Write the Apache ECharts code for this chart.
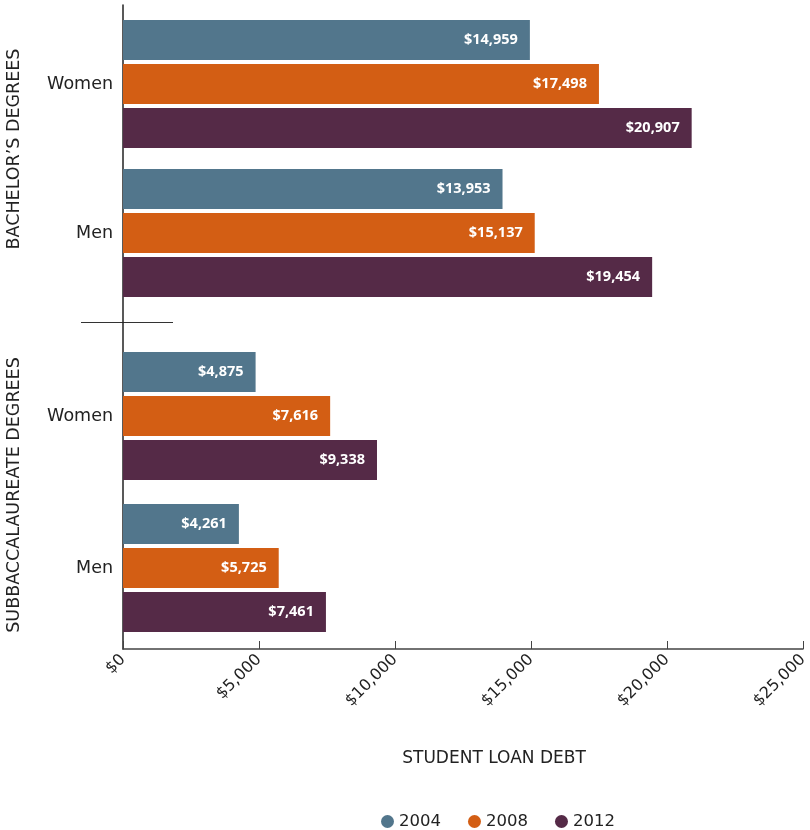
<!DOCTYPE html>
<html>
<head>
<meta charset="utf-8">
<script src="https://cdn.jsdelivr.net/npm/echarts@6/dist/echarts.min.js"></script>
<style>html,body{margin:0;padding:0;background:#fff}#c{width:810px;height:830px}</style>
</head>
<body>
<div id="c"></div>
<script>
var categories = ['Women', 'Men'];
var years = ['2004', '2008', '2012'];
var bachelor2004 = [14959, 13953];
var bachelor2008 = [17498, 15137];
var bachelor2012 = [20907, 19454];
var sub2004 = [4875, 4261];
var sub2008 = [7616, 5725];
var sub2012 = [9338, 7461];
var xTicks = [0, 5000, 10000, 15000, 20000, 25000];
var colors = ['#52768c', '#d35e14', '#552a47'];

var FONT = 'DejaVu Sans';
var LFONT = 'Noto Sans';
var chart = echarts.init(document.getElementById('c'));
function fmt(v) { return '$' + v.toLocaleString('en-US'); }
function mkSeries(name, data, gi, color) {
  return {
    type: 'bar', name: name, data: data, xAxisIndex: gi, yAxisIndex: gi,
    barWidth: 40, barGap: '10%', itemStyle: { color: color },
    label: { show: true, position: 'insideRight', distance: 12, color: '#fff', fontWeight: 'bold',
      fontSize: 14.5, fontFamily: LFONT, formatter: function (p) { return fmt(p.value); } }
  };
}
var hiddenX = { type: 'value', min: xTicks[0], max: xTicks[xTicks.length - 1], interval: 5000, show: false };
var catY = function (gi, name, pad) {
  return {
    type: 'category', gridIndex: gi, data: categories, inverse: true,
    axisLine: { show: false }, axisTick: { show: false },
    axisLabel: { color: '#222', fontSize: 17.5, fontFamily: FONT, margin: 10 },
    name: name, nameLocation: 'middle', nameRotate: 90, nameGap: 100,
    nameTextStyle: { color: '#222', fontSize: 17.5, fontFamily: FONT, padding: pad }
  };
};
chart.setOption({
  animation: false,
  textStyle: { fontFamily: FONT },
  grid: [
    { left: 123, right: 7, top: 9.5, height: 298, outerBoundsMode: 'none', containLabel: false },
    { left: 123, right: 7, top: 340, height: 304, outerBoundsMode: 'none', containLabel: false },
    { left: 123, right: 7, top: 5, bottom: 181, outerBoundsMode: 'none', containLabel: false }
  ],
  xAxis: [
    Object.assign({ gridIndex: 0 }, hiddenX),
    Object.assign({ gridIndex: 1 }, hiddenX),
    {
      type: 'value', gridIndex: 2, min: xTicks[0], max: xTicks[xTicks.length - 1], interval: 5000,
      axisLine: { show: true, lineStyle: { color: '#444', width: 1.5 } },
      axisTick: { show: true, inside: true, length: 8, lineStyle: { color: '#444' } },
      splitLine: { show: false },
      axisLabel: { rotate: 45, color: '#222', fontSize: 16, fontFamily: FONT, margin: 8,
        formatter: function (v) { return fmt(v); } },
      name: 'STUDENT LOAN DEBT', nameLocation: 'middle', nameGap: 101,
      nameTextStyle: { color: '#222', fontSize: 17, fontFamily: FONT, padding: [0, 0, 0, 62] }
    }
  ],
  yAxis: [
    catY(0, 'BACHELOR\u2019S DEGREES', [0, 0, 0, 19]),
    catY(1, 'SUBBACCALAUREATE DEGREES', [0, 6, 0, 0]),
    { type: 'value', gridIndex: 2, min: 0, max: 1, axisLabel: { show: false }, axisTick: { show: false },
      splitLine: { show: false }, axisLine: { show: true, lineStyle: { color: '#222', width: 1.5 } } }
  ],
  legend: {
    data: years, left: 376, top: 808, icon: 'circle', itemWidth: 13, itemHeight: 13, itemGap: 27,
    textStyle: { color: '#222', fontSize: 16.5, fontFamily: FONT }
  },
  graphic: [
    { type: 'line', shape: { x1: 81, y1: 322.5, x2: 173, y2: 322.5 }, style: { stroke: '#333', lineWidth: 1.2 } }
  ],
  series: [
    mkSeries(years[0], bachelor2004, 0, colors[0]),
    mkSeries(years[1], bachelor2008, 0, colors[1]),
    mkSeries(years[2], bachelor2012, 0, colors[2]),
    mkSeries(years[0], sub2004, 1, colors[0]),
    mkSeries(years[1], sub2008, 1, colors[1]),
    mkSeries(years[2], sub2012, 1, colors[2])
  ]
});
</script>
</body>
</html>
